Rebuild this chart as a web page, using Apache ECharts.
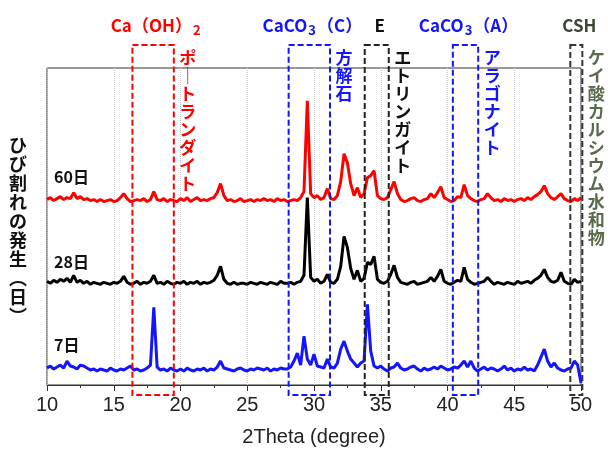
<!DOCTYPE html>
<html>
<head>
<meta charset="utf-8">
<script src="https://cdn.jsdelivr.net/npm/echarts@6/dist/echarts.min.js"></script>
<style>
  html, body { margin: 0; padding: 0; background: #fff; }
  #main { width: 608px; height: 452px; }
</style>
</head>
<body>
<div id="main"></div>
<script>
// XRD patterns, 2theta sampled every 0.25 deg from 10 to 50
const thetaStart = 10
const thetaStep = 0.25

// intensities above each pattern's own baseline (arbitrary units)
const day60 = [
  2, 4, 1, 3, 5, 2, 4, 3,
  9, 3, 5, 2, 3, 1, 2, 0,
  2, 0, 1, 2, 0, 1, 4, 8,
  3, 0, 1, 2, 1, 3, 0, 2,
  10, 2, 1, 3, 0, 2, 1, 0,
  3, 1, 4, 0, 2, 4, 1, 2,
  1, 3, 4, 9, 18, 6, 1, 2,
  0, 1, 3, 0, 1, 2, 0, 2,
  1, 3, 1, 2, 0, 3, 1, 2,
  0, 1, 2, 1, 4, 10, 101, 8,
  4, 6, 2, 4, 13, 3, 2, 6,
  20, 48, 39, 18, 6, 14, 4, 8,
  24, 26, 31, 6, 3, 2, 4, 12,
  20, 8, 2, 0, 1, 3, 4, 1,
  0, 2, 3, 8, 4, 9, 15, 4,
  2, 0, 1, 5, 4, 17, 6, 3,
  1, 0, 2, 3, 8, 4, 1, 2,
  0, 3, 1, 2, 0, 2, 3, 1,
  4, 2, 5, 7, 10, 16, 8, 4,
  2, 5, 8, 3, 1, 0, 3, 1,
  4
]
const day28 = [
  3, 1, 4, 2, 5, 3, 6, 2,
  9, 2, 4, 1, 3, 0, 2, 1,
  0, 2, 1, 0, 2, 1, 3, 8,
  2, 0, 1, 3, 0, 2, 1, 3,
  9, 1, 2, 0, 3, 1, 0, 2,
  1, 3, 0, 2, 1, 3, 0, 2,
  1, 2, 4, 9, 18, 5, 1, 0,
  2, 0, 1, 1, 0, 2, 1, 0,
  2, 1, 0, 2, 1, 0, 3, 1,
  1, 2, 0, 2, 3, 9, 87, 7,
  3, 5, 1, 3, 10, 2, 1, 5,
  18, 48, 37, 16, 5, 14, 3, 6,
  22, 20, 28, 5, 2, 1, 3, 10,
  19, 7, 2, 1, 0, 2, 3, 0,
  1, 2, 3, 7, 3, 8, 15, 3,
  1, 0, 2, 4, 3, 17, 5, 2,
  0, 1, 2, 3, 7, 3, 0, 2,
  1, 0, 2, 1, 0, 3, 1, 2,
  3, 1, 4, 6, 9, 15, 7, 3,
  2, 4, 12, 3, 1, 0, 5, 2,
  3
]
const day7 = [
  3, 5, 2, 4, 6, 3, 10, 5,
  4, 2, 6, 5, 3, 1, 2, 0,
  2, 1, 0, 3, 1, 0, 2, 1,
  3, 5, 1, 2, 0, 1, 3, 6,
  64, 4, 1, 2, 0, 3, 1, 0,
  2, 0, 3, 1, 0, 2, 1, 3,
  0, 2, 1, 4, 10, 3, 2, 1,
  0, 2, 3, 1, 0, 2, 1, 3,
  2, 1, 3, 0, 2, 1, 3, 2,
  2, 4, 10, 18, 6, 35, 12, 6,
  17, 5, 4, 3, 12, 4, 3, 8,
  22, 30, 20, 12, 8, 4, 8, 10,
  67, 20, 5, 3, 5, 2, 0, 3,
  4, 8, 3, 1, 2, 4, 5, 2,
  0, 3, 1, 2, 4, 2, 5, 3,
  1, 2, 4, 3, 6, 10, 4, 10,
  3, 0, 2, 4, 1, 3, 2, 0,
  2, 5, 1, 3, 0, 2, 1, 4,
  1, 2, 0, 6, 14, 22, 10, 4,
  8, 3, 1, 0, 2, 3, 10, 6,
  -12
]

const ageNames = ['7日', '28日', '60日']
const ageColors = ['#1414ff', '#000000', '#ff0000']
const baseOffsets = [14, 101, 184]

// phase windows (2theta ranges)
const phaseNames = ['Ca（OH）', 'CaCO', 'E', 'CaCO', 'CSH']
const phaseSubs = ['2', '3', '', '3', '']
const phaseTails = ['', '（C）', '', '（A）', '']
const phaseRanges = [[16.4, 19.5], [28.1, 31.2], [33.8, 35.6], [40.4, 42.3], [49.2, 50.1]]
const phaseColors = ['#ff0000', '#1414ff', '#222222', '#1414ff', '#333333']
const phaseTextColors = ['#ff0000', '#1414ff', '#111111', '#1414ff', '#3b4634']
const mineralNames = ['ポ｜トランダイト', '方解石', 'エトリンガイト', 'アラゴナイト', 'ケイ酸カルシウム水和物']
const mineralColors = ['#ff0000', '#1414ff', '#111111', '#1414ff', '#5a6a4c']

function toPairs(arr, off) {
  return arr.map((v, i) => [thetaStart + i * thetaStep, v + off])
}

const patterns = [day7, day28, day60]
const chart = echarts.init(document.getElementById('main'))

chart.setOption({
  animation: false,
  backgroundColor: '#fff',
  grid: {
    left: 47, right: 27, top: 68, bottom: 66,
    show: true, borderColor: '#333', borderWidth: 1
  },
  xAxis: {
    type: 'value', min: 10, max: 50, interval: 5,
    name: '2Theta (degree)', nameLocation: 'middle', nameGap: 42,
    nameTextStyle: { fontFamily: 'Liberation Sans', fontSize: 20, color: '#222' },
    axisLine: { lineStyle: { color: '#333', width: 1 } },
    axisTick: { inside: false, length: 6, lineStyle: { color: '#333' } },
    minorTick: { show: true, splitNumber: 2, length: 3, lineStyle: { color: '#333' } },
    axisLabel: { fontFamily: 'Liberation Sans', fontSize: 20, color: '#222', margin: 10 },
    splitLine: { show: true, lineStyle: { color: '#c8c8c8', type: 'dotted' } }
  },
  yAxis: {
    type: 'value', min: 0, max: 318, show: false
  },
  series: patterns.map((arr, k) => ({
    name: ageNames[k],
    type: 'line',
    data: toPairs(arr, baseOffsets[k]),
    showSymbol: false,
    lineStyle: { color: ageColors[k], width: 3 },
    z: 2 + k
  }))
})

// annotations: dashed windows and labels, positioned through the x scale
const gfx = []
phaseRanges.forEach((r, i) => {
  const x0 = chart.convertToPixel({ xAxisIndex: 0 }, r[0])
  const x1 = chart.convertToPixel({ xAxisIndex: 0 }, r[1])
  gfx.push({
    type: 'rect', z: 10,
    shape: { x: x0, y: 45, width: x1 - x0, height: 350 },
    style: { fill: 'none', stroke: phaseColors[i], lineWidth: 2, lineDash: [6, 3] }
  })
  gfx.push({
    type: 'text', z: 10,
    x: (x0 + x1) / 2 + 3, y: 26,
    style: {
      text: '{m|' + phaseNames[i] + '}' + (phaseSubs[i] ? '{s|' + phaseSubs[i] + '}' : '') + (phaseTails[i] ? '{m|' + phaseTails[i] + '}' : ''),
      align: 'center', verticalAlign: 'middle',
      rich: {
        m: { fontFamily: 'Noto Sans CJK JP', fontWeight: 'bold', fontSize: 17, fill: phaseTextColors[i], lineHeight: 20 },
        s: { fontFamily: 'Noto Sans CJK JP', fontWeight: 'bold', fontSize: 13, fill: phaseTextColors[i], lineHeight: 20, padding: [9, 1, 0, 1] }
      }
    }
  })
  gfx.push({
    type: 'text', z: 10,
    x: x1 + 14, y: 49,
    style: {
      text: mineralNames[i].split('').join('\n'),
      align: 'center', verticalAlign: 'top',
      fontFamily: 'Noto Sans CJK JP', fontWeight: 'bold', fontSize: 17, lineHeight: 18,
      fill: mineralColors[i]
    }
  })
})

// pattern labels
const labelY = [345, 262, 177]
ageNames.forEach((n, k) => {
  gfx.push({
    type: 'text', z: 10, x: 54, y: labelY[k],
    style: { text: n, fontFamily: 'Noto Sans CJK JP', fontWeight: 'bold', fontSize: 16, fill: '#111', verticalAlign: 'middle' }
  })
})

// vertical y title
gfx.push({
  type: 'text', z: 10, x: 18, y: 136,
  style: {
    text: 'ひび割れの発生︵日︶'.split('').join('\n'),
    align: 'center', verticalAlign: 'top',
    fontFamily: 'Noto Sans CJK JP', fontWeight: 'bold', fontSize: 18, lineHeight: 19, fill: '#111'
  }
})

chart.setOption({ graphic: gfx })
</script>
</body>
</html>
